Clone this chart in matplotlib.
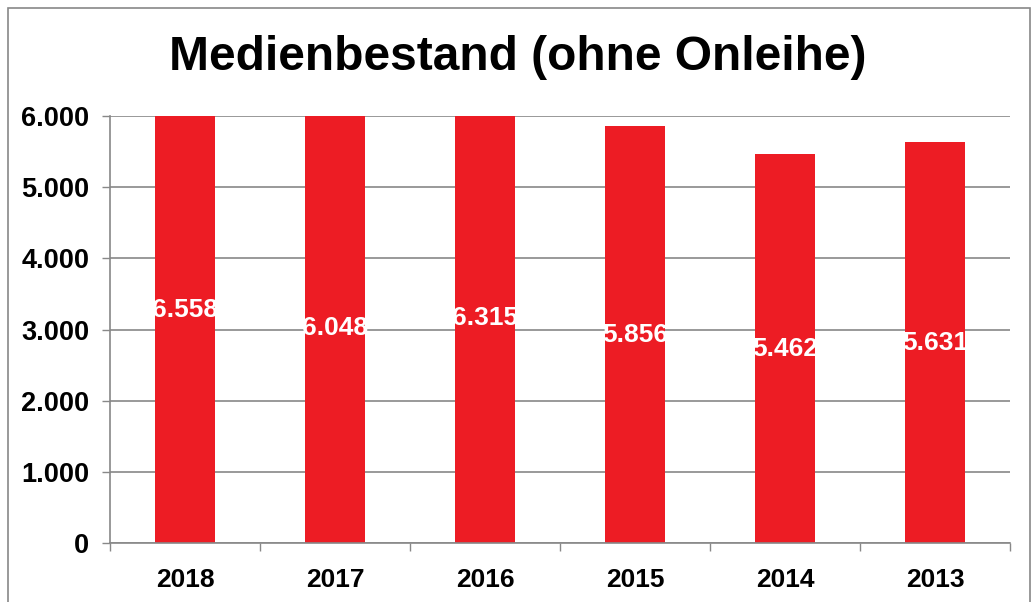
import matplotlib
matplotlib.use("Agg")
import matplotlib.pyplot as plt
from matplotlib.patches import Rectangle
from matplotlib.ticker import FixedLocator

plt.rcParams['font.family'] = ['Liberation Sans', 'DejaVu Sans']

years = ["2018", "2017", "2016", "2015", "2014", "2013"]
values = [6558, 6048, 6315, 5856, 5462, 5631]
yticks = [0, 1000, 2000, 3000, 4000, 5000, 6000]
title = "Medienbestand (ohne Onleihe)"

def fmt(v):
    return f"{v:,}".replace(",", ".")

fig = plt.figure(figsize=(10.36, 6.02), dpi=100)
ax = fig.add_axes([110/1036, 1 - 543/602, 900/1036, (543-116)/602])

x = list(range(len(years)))
ax.bar(x, values, width=0.4, color="#ED1C24", zorder=2)
for xi, v in zip(x, values):
    ax.text(xi, v/2, fmt(v), ha="center", va="center", color="white",
            fontsize=19, fontweight="bold", zorder=3)

ax.set_xlim(-0.5, len(years) - 0.5)
ax.set_ylim(0, 6000)
ax.set_yticks(yticks)
ax.set_yticklabels([fmt(t) for t in yticks], fontsize=19.5, fontweight="bold")
ax.set_xticks(x)
ax.set_xticklabels(years, fontsize=19, fontweight="bold")
ax.tick_params(axis="x", length=0, pad=18)
ax.xaxis.set_minor_locator(FixedLocator([i - 0.5 for i in range(len(years) + 1)]))
ax.tick_params(axis="x", which="minor", length=6, color="#888888", width=1)
ax.tick_params(axis="y", length=6, color="#888888", width=1, pad=9)
ax.grid(axis="y", color="#888888", linewidth=1.2, zorder=0)
for s in ["top", "right"]:
    ax.spines[s].set_visible(False)
for s in ["left", "bottom"]:
    ax.spines[s].set_color("#888888")
    ax.spines[s].set_linewidth(1.2)

fig.text(0.5, 1 - 58/602, title, ha="center", va="center", fontsize=34.5, fontweight="bold")

fig.patches.append(Rectangle((8/1036, -0.01), 1022/1036, 1 - 8/602 + 0.01, transform=fig.transFigure,
                             fill=False, edgecolor="#888888", linewidth=1.2))

fig.savefig("out.png", dpi=100)
